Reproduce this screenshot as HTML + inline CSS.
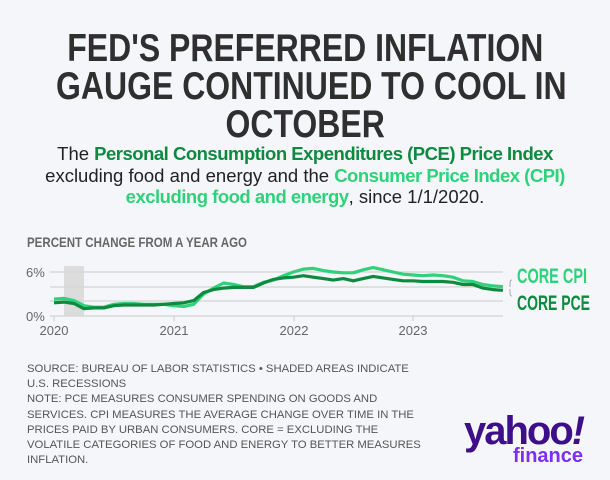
<!DOCTYPE html>
<html><head><meta charset="utf-8"><style>
html,body{margin:0;padding:0}
body{width:610px;height:480px;background:#f4f6f9;position:relative;overflow:hidden;font-family:"Liberation Sans",sans-serif}
.t{position:absolute;left:0;width:610px;text-align:center;font-weight:bold;color:#2f2f2f;font-size:39px;line-height:38px;}
.t span{display:inline-block;transform:scaleX(0.82);white-space:nowrap}
.sub{position:absolute;left:0;top:143px;width:610px;text-align:center;font-size:18.5px;line-height:21.5px;color:#222}
.sub b{letter-spacing:-0.5px}
.dg{color:#0e8a3f}.lg{color:#2fd27a}
.foot{position:absolute;left:27px;top:362px;font-size:11.3px;line-height:15.2px;color:#555;white-space:nowrap}
</style></head><body>
<div class="t" style="top:30px"><span>FED'S PREFERRED INFLATION</span></div>
<div class="t" style="top:68px"><span>GAUGE CONTINUED TO COOL IN</span></div>
<div class="t" style="top:106px"><span>OCTOBER</span></div>
<div class="sub">The <b class="dg">Personal Consumption Expenditures (PCE) Price Index</b><br>excluding food and energy and the <b class="lg">Consumer Price Index (CPI)</b><br><b class="lg">excluding food and energy</b>, since 1/1/2020.</div>
<svg id="ch" width="610" height="120" style="position:absolute;left:0;top:230px" xmlns="http://www.w3.org/2000/svg">
<text x="27" y="17" font-size="14" font-weight="bold" fill="#666" font-family="Liberation Sans" textLength="220" lengthAdjust="spacingAndGlyphs">PERCENT CHANGE FROM A YEAR AGO</text>
<rect x="64" y="36" width="20" height="50" fill="#dcdcdc"/>
<g stroke="#d8d8d8" stroke-width="1.5">
<line x1="50" x2="503" y1="42" y2="42"/><line x1="50" x2="503" y1="57" y2="57"/><line x1="50" x2="503" y1="71" y2="71"/><line x1="50" x2="503" y1="86" y2="86"/>
</g>
<g font-size="13" fill="#666" font-family="Liberation Sans">
<text x="26" y="47">6%</text><text x="26" y="91">0%</text>
<text x="54" y="105" text-anchor="middle">2020</text><text x="174" y="105" text-anchor="middle">2021</text><text x="294" y="105" text-anchor="middle">2022</text><text x="413" y="105" text-anchor="middle">2023</text>
</g>
<g stroke="#ccc" stroke-width="1"><line x1="54" x2="54" y1="86" y2="91"/><line x1="174" x2="174" y1="86" y2="91"/><line x1="294" x2="294" y1="86" y2="91"/><line x1="413" x2="413" y1="86" y2="91"/></g>
<path d="M512 50 q-2 0 -2 3 v4 M512 66 q-2 0 -2 -3 v-4" stroke="#aaa" fill="none"/>
<g font-weight="bold" font-size="21" font-family="Liberation Sans">
<text x="517" y="53" fill="#2fd27a" textLength="70" lengthAdjust="spacingAndGlyphs">CORE CPI</text>
<text x="517" y="80" fill="#0e8a3f" textLength="73" lengthAdjust="spacingAndGlyphs">CORE PCE</text>
</g>
<path id="cpi" fill="none" stroke="#2fd27a" stroke-width="3.2" stroke-linejoin="round"/>
<path id="pce" fill="none" stroke="#0e8a3f" stroke-width="3.2" stroke-linejoin="round"/>
</svg>
<div class="foot">SOURCE: BUREAU OF LABOR STATISTICS • SHADED AREAS INDICATE<br>U.S. RECESSIONS<br>NOTE: PCE MEASURES CONSUMER SPENDING ON GOODS AND<br>SERVICES. CPI MEASURES THE AVERAGE CHANGE OVER TIME IN THE<br>PRICES PAID BY URBAN CONSUMERS. CORE = EXCLUDING THE<br>VOLATILE CATEGORIES OF FOOD AND ENERGY TO BETTER MEASURES<br>INFLATION.</div>
<div style="position:absolute;left:464px;top:412px;font-weight:bold;color:#3d0f88;font-size:40px;letter-spacing:-2px;line-height:38px;font-family:'Liberation Sans',sans-serif">yahoo<span style="font-style:italic">!</span></div>
<div style="position:absolute;left:513px;top:446px;font-weight:bold;color:#7b2ff7;font-size:20px;line-height:20px">finance</div>
<script>
var cpi=[2.3,2.4,2.1,1.4,1.2,1.2,1.6,1.7,1.7,1.6,1.6,1.6,1.4,1.3,1.6,3.0,3.8,4.5,4.3,4.0,4.0,4.6,4.9,5.5,6.0,6.4,6.5,6.2,6.0,5.9,5.9,6.3,6.6,6.3,6.0,5.7,5.6,5.5,5.6,5.5,5.3,4.8,4.7,4.3,4.1,4.0];
var pce=[1.8,1.9,1.7,1.0,1.1,1.1,1.4,1.5,1.5,1.5,1.5,1.6,1.7,1.8,2.1,3.2,3.6,3.8,3.9,3.9,3.9,4.5,5.0,5.2,5.3,5.5,5.3,5.1,4.9,5.1,4.8,5.1,5.4,5.2,5.0,4.8,4.8,4.7,4.7,4.7,4.6,4.3,4.3,3.8,3.6,3.5];
function p(a){return a.map(function(v,i){return (i?'L':'M')+(54+i*9.975).toFixed(1)+' '+(86-v*7.33).toFixed(1)}).join(' ')}
document.getElementById('cpi').setAttribute('d',p(cpi));
document.getElementById('pce').setAttribute('d',p(pce));
</script>
</body></html>
